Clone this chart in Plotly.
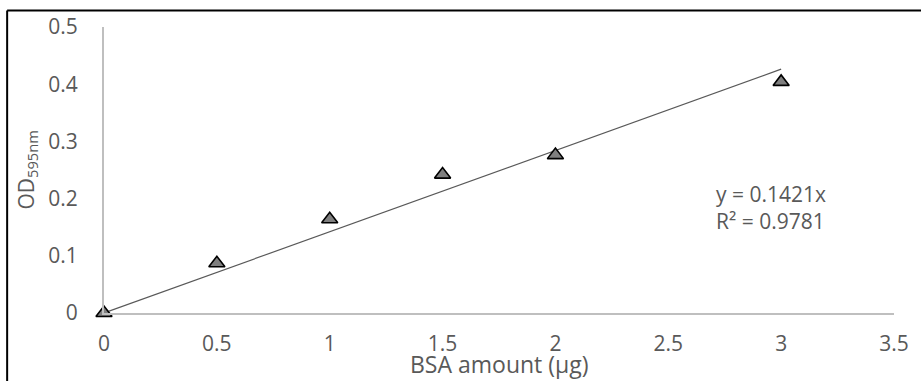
import plotly.graph_objects as go

# Bradford standard curve: BSA amount vs absorbance at 595 nm
bsa_ug = [0, 0.5, 1, 1.5, 2, 3]
od595 = [0.0, 0.087, 0.164, 0.242, 0.276, 0.404]

slope = 0.1421
r_squared = 0.9781
fit_x = [0, 3]
fit_y = [slope * x for x in fit_x]

x_ticks = [0, 0.5, 1, 1.5, 2, 2.5, 3, 3.5]
y_ticks = [0, 0.1, 0.2, 0.3, 0.4, 0.5]

FONT = "Open Sans"
TEXT_GRAY = "#595959"
AXIS_GRAY = "#bfbfbf"

fig = go.Figure()

fig.add_trace(go.Scatter(
    x=fit_x, y=fit_y, mode="lines",
    line=dict(color="#595959", width=1.2),
    hoverinfo="skip", showlegend=False,
))

fig.add_trace(go.Scatter(
    x=bsa_ug, y=od595, mode="markers",
    marker=dict(symbol="triangle-up", size=14, color="#7f7f7f",
                line=dict(color="#000000", width=1.6)),
    cliponaxis=False, showlegend=False,
))

fig.update_xaxes(
    range=[0, 3.5], tickvals=x_ticks, ticktext=[f"{v:g}" for v in x_ticks],
    showgrid=False, zeroline=False, showline=True, linecolor=AXIS_GRAY,
    linewidth=2, ticks="", ticklabelstandoff=11,
    tickfont=dict(family=FONT, size=21, color=TEXT_GRAY),
)
fig.update_yaxes(
    range=[0, 0.5], tickvals=y_ticks, ticktext=[f"{v:g}" for v in y_ticks],
    showgrid=False, zeroline=False, showline=True, linecolor=AXIS_GRAY,
    linewidth=2, ticks="", ticklabelstandoff=20,
    tickfont=dict(family=FONT, size=21, color=TEXT_GRAY),
)

annotations = [
    dict(text="BSA amount (μg)", xref="paper", yref="paper",
         x=0.5, y=-0.114, xanchor="center", yanchor="top", showarrow=False,
         font=dict(family=FONT, size=23, color=TEXT_GRAY)),
    dict(text="OD<sub>595nm</sub>", xref="paper", yref="paper",
         x=-0.098, y=0.5, xanchor="center", yanchor="middle", textangle=-90,
         showarrow=False, font=dict(family=FONT, size=21, color=TEXT_GRAY)),
    dict(text=f"y = {slope:.4f}x<br>R² = {r_squared:.4f}", xref="paper",
         yref="paper", x=0.772, y=0.37, xanchor="left", yanchor="middle",
         align="left", showarrow=False,
         font=dict(family=FONT, size=21, color=TEXT_GRAY)),
]

# chart-area frame (left and top edges)
frame = [
    dict(type="line", xref="paper", yref="paper", x0=-0.1226, x1=-0.1226,
         y0=1.058, y1=-0.3, line=dict(color="#000000", width=2)),
    dict(type="line", xref="paper", yref="paper", x0=-0.1226, x1=1.05,
         y0=1.058, y1=1.058, line=dict(color="#000000", width=2)),
]

fig.update_layout(
    width=921, height=381,
    margin=dict(l=104, r=26, t=21, b=68),
    paper_bgcolor="white", plot_bgcolor="white",
    annotations=annotations, shapes=frame,
)

fig.write_html("out.html")
